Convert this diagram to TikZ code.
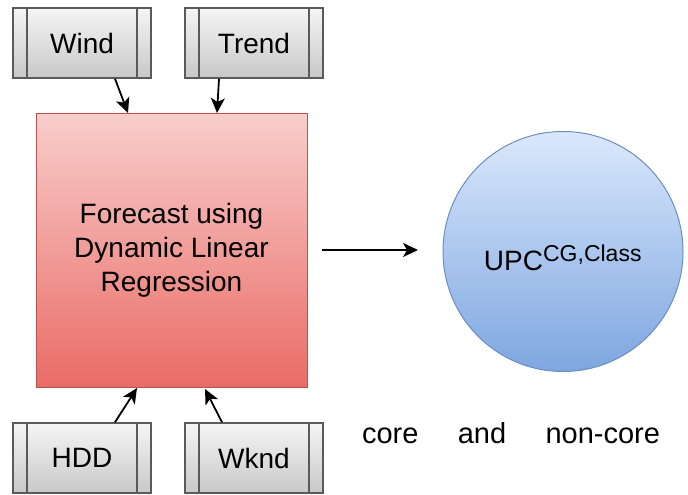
\documentclass[tikz,border=0pt]{standalone}
\usepackage{fontspec}
\setmainfont{Liberation Sans}
\usetikzlibrary{arrows.meta}
\definecolor{boxline}{HTML}{5A5A5A}
\definecolor{boxtop}{HTML}{F5F5F5}
\definecolor{boxbot}{HTML}{C8C8C8}
\definecolor{redline}{HTML}{B85450}
\definecolor{redtop}{HTML}{F8CECC}
\definecolor{redbot}{HTML}{EA6B66}
\definecolor{blueline}{HTML}{6C8EBF}
\definecolor{bluetop}{HTML}{DAE8FC}
\definecolor{bluebot}{HTML}{7EA6E0}
\tikzset{
  inputbox/.style={draw=boxline, line width=1.6pt, top color=boxtop, bottom color=boxbot,
    minimum width=138pt, minimum height=70pt, inner sep=0pt,
    font=\fontsize{28}{32}\selectfont},
  modelbox/.style={draw=redline, line width=1pt, top color=redtop, bottom color=redbot,
    minimum width=271pt, minimum height=274pt, inner sep=0pt, align=center,
    font=\fontsize{28}{34}\selectfont},
  outcircle/.style={circle, draw=blueline, line width=1pt, top color=bluetop, bottom color=bluebot,
    minimum size=240pt, inner sep=0pt, font=\fontsize{28}{32}\selectfont},
  feed/.style={line width=1.8pt, -{Stealth[length=15pt,width=14pt,inset=4pt]}},
  plain/.style={font=\fontsize{29}{34}\selectfont, inner sep=0pt}
}
\newcommand{\sidebars}[1]{%
  \draw[boxline, line width=1.6pt] ([xshift=15pt]#1.north west) -- ([xshift=15pt]#1.south west);
  \draw[boxline, line width=1.6pt] ([xshift=-15pt]#1.north east) -- ([xshift=-15pt]#1.south east);}
\begin{document}
\begin{tikzpicture}[x=1pt, y=-1pt]
  \useasboundingbox[fill=white] (0,0) rectangle (688,495);
  % input series
  \node[inputbox] (wind)  at (82,43)   {Wind};
  \node[inputbox] (trend) at (254,43)  {Trend};
  \node[inputbox] (hdd)   at (82,458)  {HDD};
  \node[inputbox] (wknd)  at (254,458) {Wknd};
  \sidebars{wind}\sidebars{trend}\sidebars{hdd}\sidebars{wknd}
  % forecasting model
  \node[modelbox] (model) at (171.5,250) {Forecast using\\Dynamic Linear\\Regression};
  % output
  \node[outcircle] (upc) at (563,251.5) {};
  \node[font=\fontsize{28}{32}\selectfont, inner sep=0pt] (upclabel) at (563,258)
    {UPC\textsuperscript{\fontsize{23}{26}\selectfont CG,Class}};
  \node[plain] (note) at (511,433) {\makebox[298pt]{core\hfill and\hfill non-core}};
  % connectors
  \coordinate (windend)  at (128,113);
  \coordinate (trendend) at (217,113);
  \coordinate (hddend)   at (137,388);
  \coordinate (wkndend)  at (205,389);
  \draw[feed] ([xshift=33pt]wind.south) -- (windend);
  \draw[feed] ([xshift=-35pt]trend.south) -- (trendend);
  \draw[feed] ([xshift=33pt]hdd.north) -- (hddend);
  \draw[feed] ([xshift=-32pt]wknd.north) -- (wkndend);
  \coordinate (arrowstart) at (322,250);
  \coordinate (arrowend) at (418,250);
  \draw[feed] (arrowstart) -- (arrowend);
\end{tikzpicture}
\end{document}
